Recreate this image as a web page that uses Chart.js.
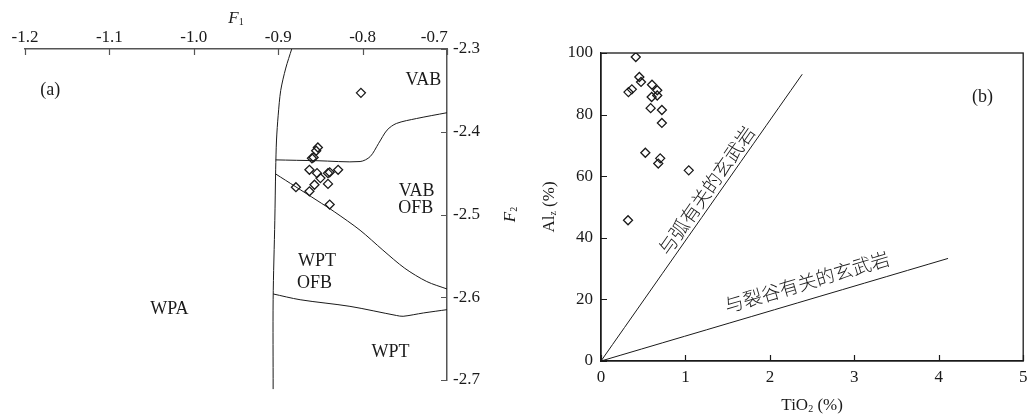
<!DOCTYPE html>
<html>
<head>
<meta charset="utf-8">
<script src="https://cdn.jsdelivr.net/npm/chart.js@4.4.0/dist/chart.umd.min.js"></script>
<style>
  body { margin: 0; background: #fff; width: 1029px; height: 415px; overflow: hidden; position: relative; }
  canvas { position: absolute; top: 0; }
  #chartA { left: 0; }
  #chartB { left: 520px; }
</style>
</head>
<body>
<canvas id="chartA" width="520" height="415"></canvas>
<canvas id="chartB" width="509" height="415"></canvas>
<script>
// ---- (a) F1 - F2 diagram ----
const f1Ticks = [-1.2, -1.1, -1.0, -0.9, -0.8, -0.7];
const f2Ticks = [-2.7, -2.6, -2.5, -2.4, -2.3];
const sampleF1 = [-0.802, -0.853, -0.855, -0.858, -0.860, -0.863, -0.854, -0.850, -0.841, -0.839, -0.829, -0.841, -0.857, -0.879, -0.863, -0.839];
const sampleF2 = [-2.353, -2.419, -2.423, -2.431, -2.432, -2.446, -2.450, -2.456, -2.450, -2.449, -2.446, -2.463, -2.464, -2.467, -2.472, -2.488];
// field boundaries
const leftBoundF1 = [-0.884, -0.891, -0.897, -0.900, -0.902, -0.903, -0.904, -0.906, -0.906];
const leftBoundF2 = [-2.300, -2.323, -2.350, -2.380, -2.410, -2.446, -2.507, -2.603, -2.711];
const upperBoundF1 = [-0.903, -0.854, -0.803, -0.791, -0.781, -0.771, -0.760, -0.736, -0.700];
const upperBoundF2 = [-2.434, -2.435, -2.436, -2.430, -2.414, -2.398, -2.390, -2.384, -2.377];
const midBoundF1 = [-0.903, -0.880, -0.854, -0.833, -0.803, -0.776, -0.750, -0.724, -0.700];
const midBoundF2 = [-2.451, -2.466, -2.483, -2.497, -2.519, -2.543, -2.565, -2.581, -2.590];
const lowBoundF1 = [-0.906, -0.874, -0.815, -0.760, -0.752, -0.728, -0.700];
const lowBoundF2 = [-2.596, -2.603, -2.611, -2.622, -2.623, -2.619, -2.615];
const fieldNames = ['(a)', 'VAB', 'VAB', 'OFB', 'WPT', 'OFB', 'WPA', 'WPT'];
const fieldF1 = [-1.170, -0.728, -0.736, -0.737, -0.854, -0.857, -1.029, -0.767];
const fieldF2 = [-2.350, -2.338, -2.472, -2.493, -2.557, -2.583, -2.615, -2.666];

// ---- (b) TiO2 - Alz diagram ----
const tiTicks = [0, 1, 2, 3, 4, 5];
const alTicks = [0, 20, 40, 60, 80, 100];
const sampleTi = [0.412, 0.454, 0.474, 0.325, 0.365, 0.604, 0.666, 0.600, 0.666, 0.588, 0.721, 0.721, 0.525, 0.701, 0.678, 1.039, 0.320];
const sampleAl = [98.7, 92.2, 90.6, 87.3, 88.2, 89.7, 87.9, 85.7, 86.2, 82.1, 81.5, 77.3, 67.6, 65.8, 64.1, 61.9, 45.7];
const arcLineTi = [0, 2.383];
const arcLineAl = [0, 93.1];
const riftLineTi = [0, 4.11];
const riftLineAl = [0, 33.3];
const arcLabel = '与弧有关的玄武岩';
const riftLabel = '与裂谷有关的玄武岩';

const SERIF = '"Liberation Serif", "DejaVu Serif", serif';
const CJK = '"Noto Sans CJK SC", "Liberation Serif", sans-serif';
const INK = '#1a1a1a';

const pts = (xs, ys) => xs.map((x, i) => ({ x: x, y: ys[i] }));

function curve(xs, ys) {
  return { data: pts(xs, ys), showLine: true, pointRadius: 0, borderColor: INK, borderWidth: 1, tension: 0.3, clip: false };
}

function diamonds(xs, ys) {
  return { data: pts(xs, ys), showLine: false, pointStyle: 'rectRot', pointRadius: 4.5, pointBorderWidth: 1.3,
           pointBorderColor: INK, pointBackgroundColor: 'rgba(255,255,255,0)' };
}

// draw text runs (normal / italic / subscript) centred on x,y
function richText(ctx, runs, x, y, angle) {
  ctx.save();
  ctx.translate(x, y);
  ctx.rotate(angle || 0);
  ctx.textBaseline = 'middle';
  ctx.textAlign = 'left';
  let w = 0;
  runs.forEach(r => { ctx.font = r.font; w += ctx.measureText(r.t).width; });
  let cx = -w / 2;
  runs.forEach(r => {
    ctx.font = r.font;
    ctx.fillStyle = INK;
    ctx.fillText(r.t, cx, r.dy || 0);
    cx += ctx.measureText(r.t).width;
  });
  ctx.restore();
}

// inward tick marks, extra frame lines, titles and notes
const decor = {
  id: 'decor',
  afterDatasetsDraw(chart, args, o) {
    const ctx = chart.ctx, a = chart.chartArea;
    const xs = chart.scales.x, ys = chart.scales.y;
    ctx.save();
    ctx.strokeStyle = o.axisColor;
    ctx.lineWidth = 1.2;
    ctx.beginPath();
    xs.ticks.forEach(t => {
      const px = Math.round(xs.getPixelForValue(t.value)) + 0.5;
      const y0 = o.xTop ? a.top : a.bottom;
      ctx.moveTo(px, y0);
      ctx.lineTo(px, y0 + (o.xTop ? 6 : -6));
    });
    ys.ticks.forEach(t => {
      const py = Math.round(ys.getPixelForValue(t.value)) + 0.5;
      const x0 = o.yRight ? a.right : a.left;
      ctx.moveTo(x0, py);
      ctx.lineTo(x0 + (o.yRight ? -6 : 6), py);
    });
    ctx.stroke();
    if (o.box) {
      ctx.lineWidth = 1.3;
      ctx.strokeRect(a.left, a.top, a.right - a.left, a.bottom - a.top);
    }
    ctx.restore();

    (o.notes || []).forEach(n => {
      richText(ctx, [{ t: n.t, font: '18px ' + SERIF }], xs.getPixelForValue(n.x), ys.getPixelForValue(n.y));
    });
    (o.slanted || []).forEach(s => {
      const x0 = xs.getPixelForValue(s.lineX[0]), y0 = ys.getPixelForValue(s.lineY[0]);
      const x1 = xs.getPixelForValue(s.lineX[1]), y1 = ys.getPixelForValue(s.lineY[1]);
      const ang = Math.atan2(y1 - y0, x1 - x0);
      richText(ctx, [{ t: s.t, font: '300 19px ' + CJK }], xs.getPixelForValue(s.x), ys.getPixelForValue(s.y), ang);
    });
    (o.titles || []).forEach(t => {
      const x = t.side === 'top' || t.side === 'bottom' ? (a.left + a.right) / 2 : (t.side === 'right' ? a.right + t.off : a.left - t.off);
      const y = t.side === 'left' || t.side === 'right' ? (a.top + a.bottom) / 2 : (t.side === 'top' ? a.top - t.off : a.bottom + t.off);
      const ang = t.side === 'left' || t.side === 'right' ? -Math.PI / 2 : 0;
      richText(ctx, t.runs, x, y, ang);
    });
  }
};

const tickFont = { family: SERIF, size: 17 };

function fixedAxis(size, horiz) {
  return s => {
    if (horiz) s.height = size; else s.width = size;
    s.paddingLeft = 0; s.paddingRight = 0; s.paddingTop = 0; s.paddingBottom = 0;
  };
}

new Chart(document.getElementById('chartA'), {
  type: 'scatter',
  data: {
    datasets: [
      curve(leftBoundF1, leftBoundF2),
      curve(upperBoundF1, upperBoundF2),
      curve(midBoundF1, midBoundF2),
      curve(lowBoundF1, lowBoundF2),
      diamonds(sampleF1, sampleF2)
    ]
  },
  options: {
    responsive: false,
    animation: false,
    devicePixelRatio: 1,
    layout: { padding: { left: 25, bottom: 35, top: 0, right: 0 } },
    plugins: {
      legend: { display: false },
      tooltip: { enabled: false },
      decor: {
        axisColor: '#555', xTop: true, yRight: true,
        notes: fieldNames.map((t, i) => ({ t: t, x: fieldF1[i], y: fieldF2[i] })),
        titles: [
          { side: 'top', off: 30, runs: [{ t: 'F', font: 'italic 17px ' + SERIF }, { t: '1', font: '10px ' + SERIF, dy: 3 }] },
          { side: 'right', off: 64, runs: [{ t: 'F', font: 'italic 17px ' + SERIF }, { t: '2', font: '10px ' + SERIF, dy: 3 }] }
        ]
      }
    },
    scales: {
      x: {
        type: 'linear', position: 'top', min: -1.2, max: -0.7,
        afterBuildTicks: s => { s.ticks = f1Ticks.map(v => ({ value: v })); },
        afterFit: fixedAxis(49, true),
        grid: { display: true, drawOnChartArea: false, drawTicks: false },
        border: { display: true, color: '#555', width: 1.5 },
        // last label sits left of its tick, clear of the F2 axis labels
        ticks: { font: tickFont, color: INK, padding: 1, maxRotation: 0,
                 callback: (v, i, all) => v.toFixed(1) + (i === all.length - 1 ? '\u2002\u2002\u2002' : '') }
      },
      y: {
        type: 'linear', position: 'right', min: -2.7, max: -2.3,
        afterBuildTicks: s => { s.ticks = f2Ticks.map(v => ({ value: v })); },
        afterFit: fixedAxis(73, false),
        grid: { display: true, drawOnChartArea: false, drawTicks: false },
        border: { display: true, color: '#555', width: 1.5 },
        ticks: { font: tickFont, color: INK, padding: 6, callback: v => v.toFixed(1) }
      }
    }
  },
  plugins: [decor]
});

new Chart(document.getElementById('chartB'), {
  type: 'scatter',
  data: {
    datasets: [
      curve(arcLineTi, arcLineAl),
      curve(riftLineTi, riftLineAl),
      diamonds(sampleTi, sampleAl)
    ]
  },
  options: {
    responsive: false,
    animation: false,
    devicePixelRatio: 1,
    layout: { padding: { left: 0, bottom: 0, top: 53, right: 3 } },
    plugins: {
      legend: { display: false },
      tooltip: { enabled: false },
      decor: {
        axisColor: INK, xTop: false, yRight: false, box: true,
        notes: [{ t: '(b)', x: 4.518, y: 85.6 }],
        slanted: [
          { t: arcLabel, x: 1.247, y: 55.4, lineX: arcLineTi, lineY: arcLineAl },
          { t: riftLabel, x: 2.439, y: 25.7, lineX: riftLineTi, lineY: riftLineAl }
        ],
        titles: [
          { side: 'bottom', off: 45, runs: [{ t: 'TiO', font: '17px ' + SERIF }, { t: '2', font: '10px ' + SERIF, dy: 3 }, { t: ' (%)', font: '17px ' + SERIF }] },
          { side: 'left', off: 51, runs: [{ t: 'Al', font: '17px ' + SERIF }, { t: 'z', font: '10px ' + SERIF, dy: 3 }, { t: ' (%)', font: '17px ' + SERIF }] }
        ]
      }
    },
    scales: {
      x: {
        type: 'linear', position: 'bottom', min: 0, max: 5,
        afterBuildTicks: s => { s.ticks = tiTicks.map(v => ({ value: v })); },
        afterFit: fixedAxis(54, true),
        grid: { display: true, drawOnChartArea: false, drawTicks: false },
        border: { display: true, color: INK, width: 1.3 },
        ticks: { font: tickFont, color: INK, padding: 6, maxRotation: 0 }
      },
      y: {
        type: 'linear', position: 'left', min: 0, max: 100,
        afterBuildTicks: s => { s.ticks = alTicks.map(v => ({ value: v })); },
        afterFit: fixedAxis(81, false),
        grid: { display: true, drawOnChartArea: false, drawTicks: false },
        border: { display: true, color: INK, width: 1.3 },
        ticks: { font: tickFont, color: INK, padding: 8 }
      }
    }
  },
  plugins: [decor]
});
</script>
</body>
</html>
